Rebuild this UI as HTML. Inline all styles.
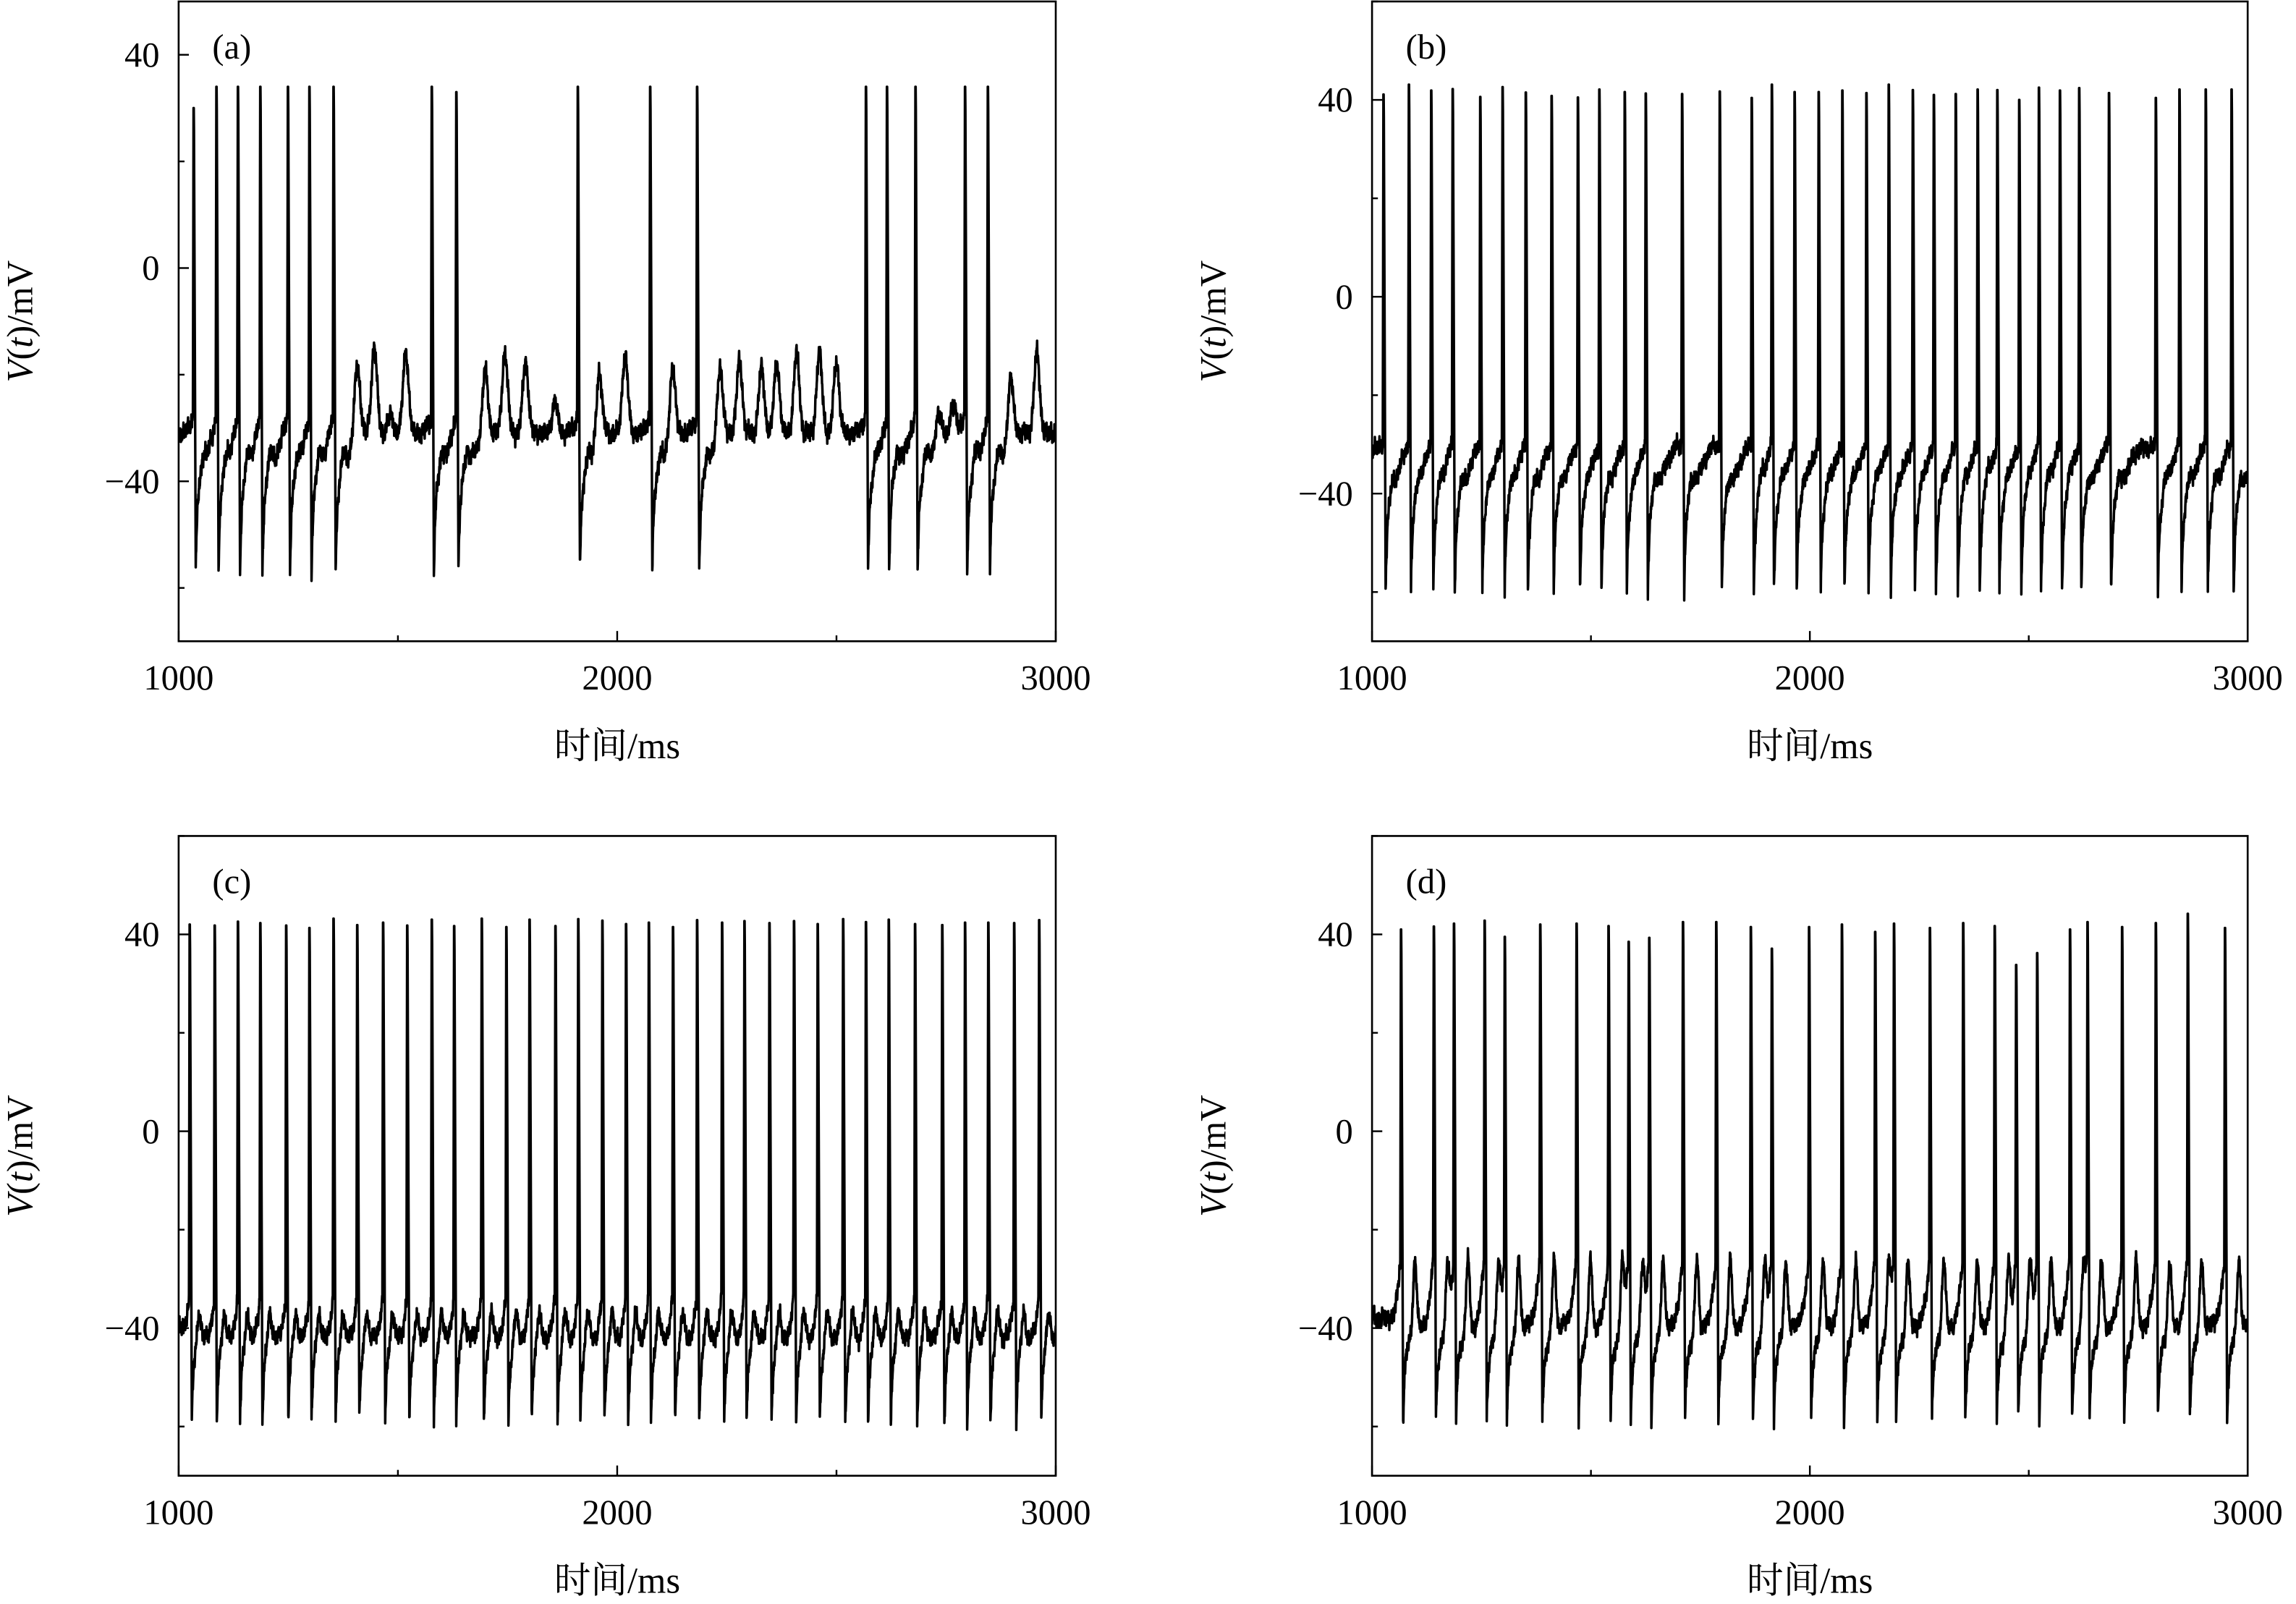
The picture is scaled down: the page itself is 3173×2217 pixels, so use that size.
<!DOCTYPE html>
<html><head><meta charset="utf-8"><style>
html,body{margin:0;padding:0;background:#fff}
svg{display:block}
text{font-family:"Liberation Serif","Noto Serif CJK SC",serif;fill:#000}
</style></head><body>
<svg id="fig" width="3173" height="2217" viewBox="0 0 1568 1095.6" preserveAspectRatio="none" xmlns="http://www.w3.org/2000/svg"></svg>
<script>
// ---- data ----
const xTicks = [1000, 2000, 3000];
const xMinor = [1500, 2500];
const yTicksA = [40, 0, -40];
const yTicksB = [40, 0, -40];
const panelLabels = ["(a)", "(b)", "(c)", "(d)"];

const spikesA = [1034,1086,1135,1186,1249,1298,1353,1577,1633,1910,2075,2182,2567,2615,2680,2793,2845];
const peaksA  = [30,34,34,34,34,34,34,34,33,34,34,34,34,34,34,34,34];
const bumpTimesA = [1407,1446,1483,1518,1699,1744,1791,1858,1959,2018,2126,2234,2279,2329,2364,2409,2461,2500,2732,2767,2897,2957];
const bumpValsA  = [-16.4,-14.9,-27.7,-15.7,-19.3,-16.0,-17.6,-25.2,-17.0,-16.3,-16.6,-16.6,-17.5,-18.9,-17.8,-16.0,-16.0,-17.6,-25.7,-25.9,-19.1,-16.1];

const spikesB = [1026,1084,1135,1184,1247,1298,1351,1410,1470,1519,1577,1625,1708,1794,1867,1913,1965,2020,2074,2129,2180,2235,2283,2333,2383,2428,2478,2523,2571,2615,2683,2790,2844,2904,2963];
const peaksB  = [41.1,43.1,41.9,42.2,40.6,42.6,41.5,40.8,40.5,42.1,41.6,41.3,41.2,41.7,40.4,43.1,41.6,41.6,41.9,41.4,43.1,42.0,41.0,41.2,42.1,42.0,40.0,42.5,41.9,42.4,41.4,40.4,42.1,42.1,42.1];

const spikesC = [1025,1082,1135,1186,1245,1298,1353,1407,1466,1521,1577,1628,1691,1747,1800,1859,1911,1966,2020,2072,2127,2182,2239,2290,2347,2403,2457,2515,2567,2619,2679,2741,2793,2846,2905,2962];
const peaksC  = [42.0,41.8,42.6,42.3,41.8,41.3,43.2,41.9,42.4,41.8,43.0,41.7,43.2,41.5,43.0,41.7,43.1,42.8,42.1,42.4,41.5,42.9,42.4,42.7,42.3,42.7,42.1,43.1,42.5,43.0,42.1,41.9,42.4,42.4,42.3,42.9];

const spikesD = [1066,1141,1187,1257,1303,1384,1467,1540,1586,1633,1710,1786,1865,1913,1998,2073,2149,2192,2274,2350,2422,2471,2519,2594,2634,2713,2790,2863,2948];
const peaksD  = [41.0,41.6,42.2,42.8,39.5,42.0,42.2,41.7,38.5,39.3,42.5,42.5,41.5,37.1,41.5,42.0,40.5,42.2,41.3,42.3,41.7,33.8,36.2,41.0,42.5,41.5,42.3,44.2,41.3];

// ---- layout ----
const svg = document.getElementById('fig');
const NS = 'http://www.w3.org/2000/svg';
function mk(tag, attrs, parent){const e=document.createElementNS(NS,tag);for(const k in attrs)e.setAttribute(k,attrs[k]);(parent||svg).appendChild(e);return e;}

const panels = [
 {id:'a', L:122, R:721, T:1, B:438, ymin:-70, ymax:50, spikes:spikesA, peaks:peaksA, bt:bumpTimesA, bv:bumpValsA, base:-31, rec:-40, thr:-28, trough:-57, pre:30, pbA:3, pbT:24, seed:0.3, ticks:yTicksA},
 {id:'b', L:937, R:1535, T:1, B:438, ymin:-70, ymax:60, spikes:spikesB, peaks:peaksB, bt:[], bv:[], base:-31, rec:-42, thr:-30, trough:-59.5, pre:40, pbA:2, pbT:22, seed:1.1, ticks:yTicksB},
 {id:'c', L:122, R:721, T:571, B:1008, ymin:-70, ymax:60, spikes:spikesC, peaks:peaksC, bt:[], bv:[], base:-40, rec:-44, thr:-33, trough:-59, pre:16, pbA:6, pbT:22, seed:2.2, ticks:yTicksB},
 {id:'d', L:937, R:1535, T:571, B:1008, ymin:-70, ymax:60, spikes:spikesD, peaks:peaksD, bt:[], bv:[], base:-38, rec:-44, thr:-25, trough:-58.5, pre:22, pbA:15, pbT:32, seed:3.7, ticks:yTicksB}
];

function voltage(P, t){
  let v = P.base;
  let s=-1e9, si=-1, n=1e9, ni=-1;
  for(let i=0;i<P.spikes.length;i++){ if(P.spikes[i]<=t){s=P.spikes[i];si=i;} else {n=P.spikes[i];ni=i;break;} }
  const tau = t - s;
  if(si>=0 && tau<=0.8) return P.peaks[si];
  if(si>=0 && tau<5) return P.peaks[si] + (P.trough-P.peaks[si])*(tau-0.8)/4.2;
  if(si>=0){
    const r = tau-5;
    v = P.trough + (P.rec-P.trough)*(1-Math.exp(-r/4));
    v += (P.base-P.rec)*Math.min(1, r/60);
    const db=(tau-P.pbT)/6; v += P.pbA*Math.exp(-db*db);
  }
  const dn = n - t;
  if(ni>=0 && dn<P.pre){ const w=1-dn/P.pre; v += (P.thr - v)*w*w; }
  for(let k=0;k<P.bt.length;k++){ const d=(t-P.bt[k])/9; if(Math.abs(d)<4) v += (P.bv[k]-P.base)*Math.exp(-d*d); }
  const nz = (Math.sin(t*1.73+P.seed)+0.8*Math.sin(t*3.17+2*P.seed)+0.6*Math.sin(t*0.61+P.seed*3)+0.7*Math.sin(t*5.9+P.seed)+0.5*Math.sin(t*0.23+P.seed))/2.6;
  v += 2.0*nz;
  if(ni>=0 && dn<1.5){ const w=1-dn/1.5; v = v + (P.peaks[ni]-v)*w; }
  return v;
}

panels.forEach((P,pi)=>{
  const g = mk('g',{});
  
  
  const xs = x => P.L + (x-1000)/2000*(P.R-P.L);
  const ys = y => P.B - (y-P.ymin)/(P.ymax-P.ymin)*(P.B-P.T);
  const cp = mk('clipPath',{id:'clip'+P.id},g);
  mk('rect',{x:P.L,y:P.T,width:P.R-P.L,height:P.B-P.T},cp);
  let d='';
  for(let t=1000;t<=3000;t+=0.5){
    const v = voltage(P,t);
    d += (t===1000?'M':'L') + xs(t).toFixed(2)+' '+ys(v).toFixed(2);
  }
  const tr = mk('path',{d:d,fill:'none',stroke:'#000','stroke-width':1.7,'stroke-linejoin':'round','clip-path':'url(#clip'+P.id+')'},g);
  
  
  const fr = mk('rect',{x:P.L,y:P.T,width:P.R-P.L,height:P.B-P.T,fill:'none',stroke:'#000','stroke-width':1.3},g);
  
  
  xTicks.forEach(x=>{
    mk('line',{x1:xs(x),x2:xs(x),y1:P.B,y2:P.B-7,stroke:'#000','stroke-width':1.2},g);
    const tl = mk('text',{x:xs(x),y:P.B+33,'font-size':24,'text-anchor':'middle'},g);
    tl.textContent = x;
    
    
  });
  xMinor.forEach(x=>{ mk('line',{x1:xs(x),x2:xs(x),y1:P.B,y2:P.B-4,stroke:'#000','stroke-width':1.2},g); });
  for(let y=Math.ceil(P.ymin/20)*20; y<=P.ymax; y+=20){
    const major = P.ticks.indexOf(y)>=0;
    mk('line',{x1:P.L,x2:P.L+(major?7:4),y1:ys(y),y2:ys(y),stroke:'#000','stroke-width':1.2},g);
  }
  P.ticks.forEach(y=>{
    const tl = mk('text',{x:P.L-13,y:ys(y)+8,'font-size':24,'text-anchor':'end'},g);
    tl.textContent = y<0 ? '\u2212'+(-y) : String(y);
    
    
  });
  const cy = (P.T+P.B)/2, lx = P.L-100;
  const yl = mk('text',{x:lx,y:cy,'font-size':25,'text-anchor':'middle',transform:'rotate(-90 '+lx+' '+cy+')'},g);
  yl.innerHTML = '<tspan font-style="italic">V</tspan>(<tspan font-style="italic">t</tspan>)/mV';
  
  
  const xl = mk('text',{x:(P.L+P.R)/2,y:P.B+80,'font-size':25,'text-anchor':'middle'},g);
  xl.textContent = '时间/ms';
  
  
  const pl = mk('text',{x:P.L+23,y:P.T+39,'font-size':24},g);
  pl.textContent = panelLabels[pi];
  
  
});
</script>
</body></html>
